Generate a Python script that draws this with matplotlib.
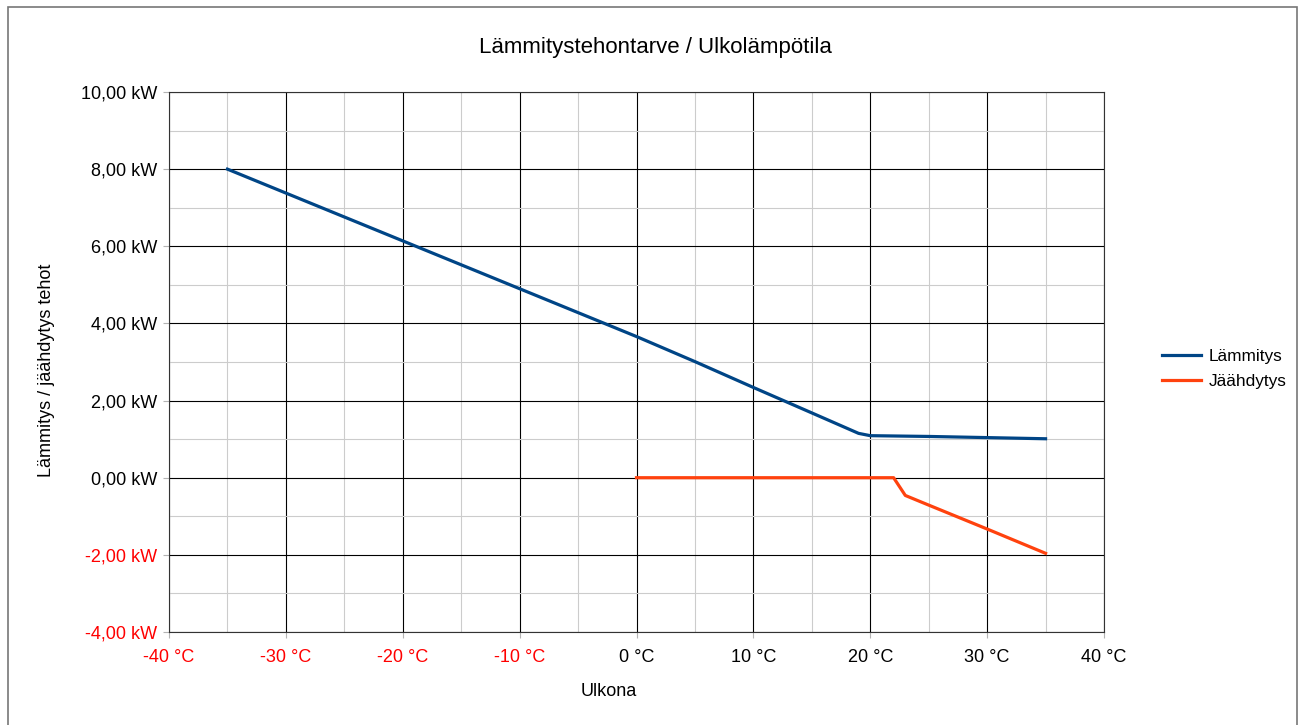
import matplotlib.pyplot as plt
from matplotlib.ticker import MultipleLocator, FuncFormatter
from matplotlib.patches import Rectangle

plt.rcParams['font.family'] = ['Liberation Sans', 'DejaVu Sans']

# Data
lammitys_x = [-35, -30, -25, -20, -15, -10, -5, 0, 5, 10, 15, 19, 20, 25, 30, 35]
lammitys_y = [8.00, 7.38, 6.76, 6.14, 5.52, 4.90, 4.28, 3.66, 3.01, 2.34, 1.68, 1.15, 1.09, 1.07, 1.04, 1.01]

jaahdytys_x = [0, 5, 10, 15, 20, 22, 23, 25, 30, 35]
jaahdytys_y = [0.00, 0.00, 0.00, 0.00, 0.00, 0.00, -0.46, -0.71, -1.33, -1.96]

title = "Lämmitystehontarve / Ulkolämpötila"
x_title = "Ulkona"
y_title = "Lämmitys / jäähdytys tehot"

fig = plt.figure(figsize=(13.01, 7.25), dpi=100)
ax = fig.add_axes([169 / 1301, 1 - 632 / 725, (1104 - 169) / 1301, (632 - 92) / 725])

ax.plot(lammitys_x, lammitys_y, color="#004586", lw=2.3, label="Lämmitys", zorder=3)
ax.plot(jaahdytys_x, jaahdytys_y, color="#ff420e", lw=2.3, label="Jäähdytys", zorder=3)

ax.set_xlim(-40, 40)
ax.set_ylim(-4, 10)
ax.xaxis.set_major_locator(MultipleLocator(10))
ax.xaxis.set_minor_locator(MultipleLocator(5))
ax.yaxis.set_major_locator(MultipleLocator(2))
ax.yaxis.set_minor_locator(MultipleLocator(1))

ax.xaxis.set_major_formatter(FuncFormatter(lambda v, p: f"{v:.0f} °C"))
ax.yaxis.set_major_formatter(FuncFormatter(lambda v, p: f"{v:.2f} kW".replace(".", ",")))

ax.grid(which="minor", color="#cccccc", lw=0.8, zorder=0)
ax.grid(which="major", color="#000000", lw=0.8, zorder=1)
ax.set_axisbelow(True)

ax.tick_params(which="major", direction="out", length=4, width=0.8, color="#b3b3b3",
               labelsize=13)
ax.tick_params(axis="x", which="major", pad=8)
ax.tick_params(axis="y", which="major", pad=4.5)
ax.tick_params(which="minor", length=0)

for lbl in ax.get_xticklabels():
    if "-" in lbl.get_text() or "−" in lbl.get_text():
        lbl.set_color("#ff0000")
for lbl in ax.get_yticklabels():
    if "-" in lbl.get_text() or "−" in lbl.get_text():
        lbl.set_color("#ff0000")

for s in ax.spines.values():
    s.set_color("#333333")
    s.set_linewidth(0.8)

fig.text(655 / 1301, 1 - 47 / 725, title, ha="center", va="center", fontsize=16)
fig.text(609 / 1301, 1 - 692 / 725, x_title, ha="center", va="center", fontsize=13)
fig.text(47 / 1301, 1 - 370 / 725, y_title, ha="center", va="center", rotation=90, fontsize=13)

fig.legend(loc="center left", bbox_to_anchor=(1146 / 1301, 1 - 369 / 725), frameon=False,
           fontsize=12.4, handlelength=2.3, handletextpad=0.45, labelspacing=0.6)

fig.patches.append(Rectangle((8 / 1301, -0.05), (1297 - 8) / 1301, 1.05 - 7 / 725,
                             transform=fig.transFigure, fill=False, edgecolor="#777777", lw=1.2))

fig.savefig("out.png", dpi=100)
